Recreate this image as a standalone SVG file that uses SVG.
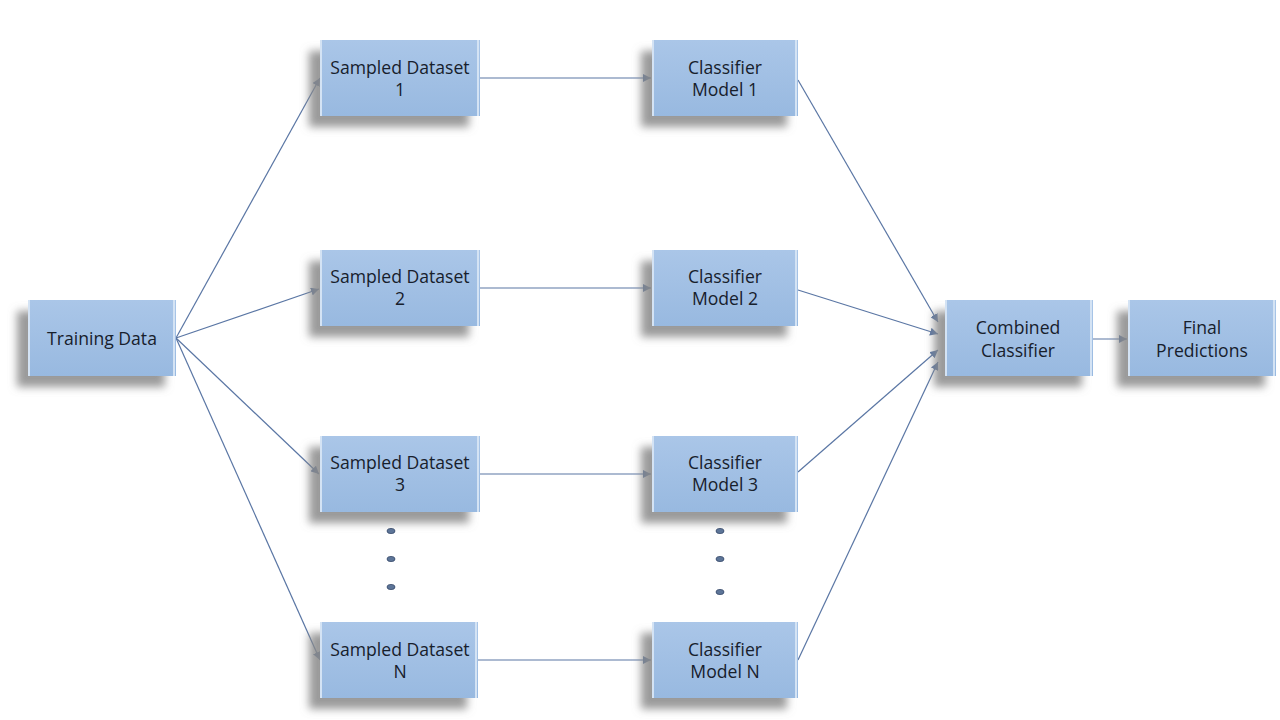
<svg xmlns="http://www.w3.org/2000/svg" width="1280" height="720" viewBox="0 0 1280 720">
<defs>
<linearGradient id="boxg" x1="0" y1="0" x2="0" y2="1">
<stop offset="0" stop-color="#aac6e8"/>
<stop offset="1" stop-color="#98b9e0"/>
</linearGradient>
<filter id="sh" x="-30%" y="-30%" width="160%" height="170%">
<feDropShadow dx="-11" dy="11" stdDeviation="4" flood-color="#888888" flood-opacity="0.85"/>
</filter>
<marker id="arr" viewBox="0 0 10 10" refX="10" refY="5" markerWidth="8" markerHeight="8" markerUnits="userSpaceOnUse" orient="auto">
<path d="M0,0 L10,5 L0,10 Z" fill="#5a76a4"/>
</marker>
<style>
.box{fill:url(#boxg);filter:url(#sh);}
.edge{fill:#d4e3f4;}
.t{font-family:"Open Sans","Noto Sans",sans-serif;font-size:17.6px;fill:#17202c;text-anchor:middle;}
.c{stroke:#5a76a4;stroke-width:1.2;fill:none;marker-end:url(#arr);}
.dot{fill:#5d7598;stroke:#36496a;stroke-width:0.8;}
</style>
</defs>
<rect width="1280" height="720" fill="#ffffff"/>
<g id="connectors">
<line class="c" x1="176" y1="338" x2="320" y2="78"/>
<line class="c" x1="176" y1="338" x2="319" y2="289"/>
<line class="c" x1="176" y1="338" x2="319" y2="474"/>
<line class="c" x1="176" y1="338" x2="320" y2="660"/>
<line class="c" x1="480" y1="78" x2="651" y2="78"/>
<line class="c" x1="480" y1="288" x2="651" y2="288"/>
<line class="c" x1="480" y1="474" x2="651" y2="474"/>
<line class="c" x1="478" y1="660" x2="651" y2="660"/>
<line class="c" x1="798" y1="80" x2="938" y2="322"/>
<line class="c" x1="798" y1="290" x2="938" y2="334"/>
<line class="c" x1="798" y1="472" x2="938" y2="350"/>
<line class="c" x1="798" y1="660" x2="938" y2="362"/>
<line class="c" x1="1093" y1="339" x2="1127" y2="339"/>
</g>
<g id="training-data">
<rect class="box" x="28" y="300" width="148" height="76"/>
<rect class="edge" x="28" y="300" width="2" height="76"/><rect class="edge" x="173" y="300" width="2" height="76"/>
<text class="t" x="102" y="345">Training Data</text>
</g>
<g id="sampled-1">
<rect class="box" x="320" y="40" width="160" height="76"/>
<rect class="edge" x="320" y="40" width="2" height="76"/><rect class="edge" x="477" y="40" width="2" height="76"/>
<text class="t" x="400" y="74">Sampled Dataset</text><text class="t" x="400" y="96">1</text>
</g>
<g id="sampled-2">
<rect class="box" x="320" y="250" width="160" height="76"/>
<rect class="edge" x="320" y="250" width="2" height="76"/><rect class="edge" x="477" y="250" width="2" height="76"/>
<text class="t" x="400" y="283">Sampled Dataset</text><text class="t" x="400" y="305">2</text>
</g>
<g id="sampled-3">
<rect class="box" x="320" y="436" width="160" height="76"/>
<rect class="edge" x="320" y="436" width="2" height="76"/><rect class="edge" x="477" y="436" width="2" height="76"/>
<text class="t" x="400" y="469">Sampled Dataset</text><text class="t" x="400" y="491">3</text>
</g>
<g id="sampled-n">
<rect class="box" x="320" y="622" width="158" height="76"/>
<rect class="edge" x="320" y="622" width="2" height="76"/><rect class="edge" x="475" y="622" width="2" height="76"/>
<text class="t" x="400" y="656">Sampled Dataset</text><text class="t" x="400" y="678">N</text>
</g>
<g id="classifier-1">
<rect class="box" x="652" y="40" width="146" height="76"/>
<rect class="edge" x="652" y="40" width="2" height="76"/><rect class="edge" x="795" y="40" width="2" height="76"/>
<text class="t" x="725" y="74">Classifier</text><text class="t" x="725" y="96">Model 1</text>
</g>
<g id="classifier-2">
<rect class="box" x="652" y="250" width="146" height="76"/>
<rect class="edge" x="652" y="250" width="2" height="76"/><rect class="edge" x="795" y="250" width="2" height="76"/>
<text class="t" x="725" y="283">Classifier</text><text class="t" x="725" y="305">Model 2</text>
</g>
<g id="classifier-3">
<rect class="box" x="652" y="436" width="146" height="76"/>
<rect class="edge" x="652" y="436" width="2" height="76"/><rect class="edge" x="795" y="436" width="2" height="76"/>
<text class="t" x="725" y="469">Classifier</text><text class="t" x="725" y="491">Model 3</text>
</g>
<g id="classifier-n">
<rect class="box" x="652" y="622" width="146" height="76"/>
<rect class="edge" x="652" y="622" width="2" height="76"/><rect class="edge" x="795" y="622" width="2" height="76"/>
<text class="t" x="725" y="656">Classifier</text><text class="t" x="725" y="678">Model N</text>
</g>
<g id="combined">
<rect class="box" x="945" y="300" width="148" height="76"/>
<rect class="edge" x="945" y="300" width="2" height="76"/><rect class="edge" x="1090" y="300" width="2" height="76"/>
<text class="t" x="1018" y="334">Combined</text><text class="t" x="1018" y="357">Classifier</text>
</g>
<g id="final">
<rect class="box" x="1128" y="300" width="148" height="76"/>
<rect class="edge" x="1128" y="300" width="2" height="76"/><rect class="edge" x="1273" y="300" width="2" height="76"/>
<text class="t" x="1202" y="334">Final</text><text class="t" x="1202" y="357">Predictions</text>
</g>
<g id="ellipsis-left">
<ellipse class="dot" cx="391" cy="531" rx="4" ry="2.6"/>
<ellipse class="dot" cx="391" cy="559" rx="4" ry="2.6"/>
<ellipse class="dot" cx="391" cy="587" rx="4" ry="2.6"/>
</g>
<g id="ellipsis-right">
<ellipse class="dot" cx="720" cy="531" rx="4" ry="2.6"/>
<ellipse class="dot" cx="720" cy="559" rx="4" ry="2.6"/>
<ellipse class="dot" cx="720" cy="592" rx="4" ry="2.6"/>
</g>
</svg>
